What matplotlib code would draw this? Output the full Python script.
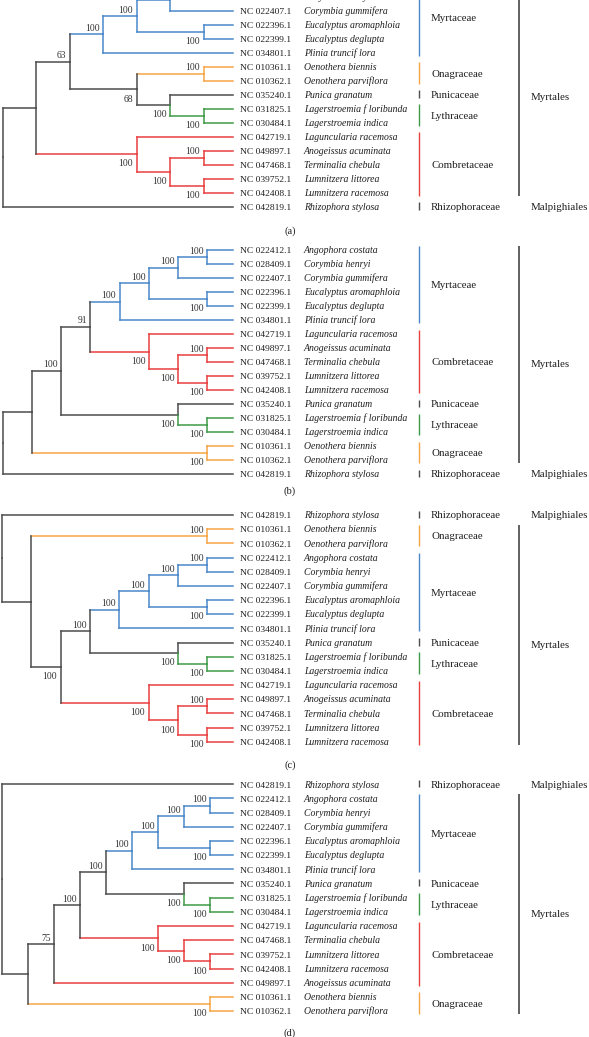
import matplotlib
matplotlib.use('Agg')
import matplotlib.pyplot as plt

plt.rcParams['font.family'] = ['Liberation Serif', 'DejaVu Serif']

# ---------------- data ----------------
accessions = ['022412', '028409', '022407', '022396', '022399', '034801',
              '010361', '010362', '035240', '031825', '030484', '042719',
              '049897', '047468', '039752', '042408', '042819']
species = ['Angophora costata', 'Corymbia henryi', 'Corymbia gummifera',
           'Eucalyptus aromaphloia', 'Eucalyptus deglupta', 'Plinia truncif lora',
           'Oenothera biennis', 'Oenothera parviflora', 'Punica granatum',
           'Lagerstroemia f loribunda', 'Lagerstroemia indica',
           'Laguncularia racemosa', 'Anogeissus acuminata', 'Terminalia chebula',
           'Lumnitzera littorea', 'Lumnitzera racemosa', 'Rhizophora stylosa']
families = ['Myrtaceae'] * 6 + ['Onagraceae'] * 2 + ['Punicaceae'] + \
           ['Lythraceae'] * 2 + ['Combretaceae'] * 5 + ['Rhizophoraceae']
family_names = ['Myrtaceae', 'Onagraceae', 'Punicaceae', 'Lythraceae',
                'Combretaceae', 'Rhizophoraceae']
family_colors = ['#4a87c9', '#f5a545', '#4d4d4d', '#3f9a48', '#e8403f', '#4d4d4d']
family_orders = ['Myrtales', 'Myrtales', 'Myrtales', 'Myrtales', 'Myrtales',
                 'Malpighiales']

trees = [
    "(((((((022412,028409)100,022407)100,(022396,022399)100)100,034801)100,"
    "((010361,010362)100,(035240,(031825,030484)100)100)68)63,"
    "(042719,((049897,047468)100,(039752,042408)100)100)100),042819);",
    "((((((((022412,028409)100,022407)100,(022396,022399)100)100,034801)100,"
    "(042719,((049897,047468)100,(039752,042408)100)100)100)91,"
    "(035240,(031825,030484)100)100)100,(010361,010362)100),042819);",
    "(042819,((010361,010362)100,((((((022412,028409)100,022407)100,"
    "(022396,022399)100)100,034801)100,(035240,(031825,030484)100)100)100,"
    "(042719,((049897,047468)100,(039752,042408)100)100)100)100));",
    "(042819,((((((((022412,028409)100,022407)100,(022396,022399)100)100,"
    "034801)100,(035240,(031825,030484)100)100)100,"
    "(042719,(047468,(039752,042408)100)100)100)100,049897)75,"
    "(010361,010362)100));",
]
panel_labels = ['(a)', '(b)', '(c)', '(d)']

# ---------------- layout / style ----------------
W, H = 589, 1037
row0 = [-17.3, 250.0, 515.0, 784.3]
row_step = [14.0, 14.0, 14.17, 14.17]
label_y = [230, 490, 764, 1032]
root_x = [2.7, 2.7, 2.0, 2.0]
tip_x = 233.0
acc_x, sp_x = 240, 304
fam_bar_x, fam_txt_x = 419, 431
ord_bar_x, ord_txt_x = 519, 531
gray = '#4d4d4d'
txt_col = '#1e1e1e'
split_vertical = {'Lythraceae'}

fam_color = dict(zip(family_names, family_colors))
fam_order = dict(zip(family_names, family_orders))
tip_family = dict(zip(accessions, families))
tip_species = dict(zip(accessions, species))


def parse(s):
    s = s.strip().rstrip(';')
    pos = 0

    def node():
        nonlocal pos
        if s[pos] == '(':
            pos += 1
            kids = [node()]
            while s[pos] == ',':
                pos += 1
                kids.append(node())
            pos += 1  # ')'
            st = pos
            while pos < len(s) and s[pos] not in ',()':
                pos += 1
            return {'kids': kids, 'label': s[st:pos]}
        st = pos
        while pos < len(s) and s[pos] not in ',()':
            pos += 1
        return {'tip': s[st:pos]}
    return node()


def prep(n, tips):
    if 'tip' in n:
        tips.append(n['tip'])
        n['h'] = -1
        n['fams'] = {tip_family[n['tip']]}
        return
    for k in n['kids']:
        prep(k, tips)
    n['h'] = max(k['h'] for k in n['kids']) + 1
    n['fams'] = set().union(*[k['fams'] for k in n['kids']])


def place(n, maxh, x0, step, y0, dy, order):
    if 'tip' in n:
        n['x'] = x0 + (maxh + 0.88) * step
        n['y'] = y0 + order.index(n['tip']) * dy
    else:
        for k in n['kids']:
            place(k, maxh, x0, step, y0, dy, order)
        n['x'] = x0 + (maxh - n['h']) * step
        n['y'] = (n['kids'][0]['y'] + n['kids'][-1]['y']) / 2
    n['col'] = fam_color[next(iter(n['fams']))] if len(n['fams']) == 1 else gray


fig = plt.figure(figsize=(W / 100, H / 100), dpi=100)
ax = fig.add_axes([0, 0, 1, 1])
ax.set_xlim(0, W)
ax.set_ylim(H, 0)
ax.axis('off')

LW = 1.1


def draw(n, parent=None):
    if 'tip' in n:
        return
    for k in n['kids']:
        ax.plot([n['x'], k['x']], [k['y'], k['y']], color=k['col'], lw=LW,
                solid_capstyle='projecting')
        vcol = k['col'] if (len(k['fams']) == 1 and
                            next(iter(k['fams'])) in split_vertical) else n['col']
        ax.plot([n['x'], n['x']], [n['y'], k['y']], color=vcol, lw=LW,
                solid_capstyle='projecting')
        draw(k, n)
    if parent is not None and n['label']:
        if n['y'] < parent['y']:
            yb = n['y'] - 3.4
        else:
            yb = n['y'] + 12.2
        ax.text(n['x'] - 3.5, yb, n['label'], ha='right', va='baseline',
                fontsize=6.9, color='#333333')


for p, nwk in enumerate(trees):
    tree = parse(nwk)
    order = []
    prep(tree, order)
    maxh = tree['h']
    step = (tip_x - root_x[p]) / (maxh + 0.88)
    place(tree, maxh, root_x[p], step, row0[p], row_step[p], order)
    draw(tree)

    ys = [row0[p] + i * row_step[p] for i in range(len(order))]
    for acc, y in zip(order, ys):
        ax.text(acc_x, y + 3.2, f'NC {acc}.1', ha='left', va='baseline',
                fontsize=6.8, color=txt_col)
        ax.text(sp_x, y + 3.2, tip_species[acc], ha='left', va='baseline',
                fontsize=7.0, style='italic', color=txt_col)

    # family runs
    fam_seq = [tip_family[a] for a in order]
    runs = []
    for i, f in enumerate(fam_seq):
        if runs and runs[-1][0] == f:
            runs[-1][2] = i
        else:
            runs.append([f, i, i])
    for f, i0, i1 in runs:
        ax.plot([fam_bar_x, fam_bar_x], [ys[i0] - 4.5, ys[i1] + 3.0],
                color=fam_color[f], lw=1.0, solid_capstyle='butt')
        ax.text(fam_txt_x, (ys[i0] + ys[i1]) / 2 + 3.2, f, ha='left',
                va='baseline', fontsize=7.8, color=txt_col)

    # order runs
    ord_seq = [fam_order[f] for f in fam_seq]
    oruns = []
    for i, o in enumerate(ord_seq):
        if oruns and oruns[-1][0] == o:
            oruns[-1][2] = i
        else:
            oruns.append([o, i, i])
    for o, i0, i1 in oruns:
        if i1 > i0:
            ax.plot([ord_bar_x, ord_bar_x], [ys[i0] - 4.0, ys[i1] + 3.0],
                    color='#555555', lw=1.3, solid_capstyle='butt')
            yc = (ys[i0] + ys[i1]) / 2 + 9
        else:
            yc = ys[i0]
        ax.text(ord_txt_x, yc + 3.2, o, ha='left', va='baseline',
                fontsize=7.8, color=txt_col)

    ax.text(290, label_y[p] + 3.5, panel_labels[p], ha='center', va='baseline',
            fontsize=7.6, color=txt_col)

fig.savefig('out.png', dpi=100)
